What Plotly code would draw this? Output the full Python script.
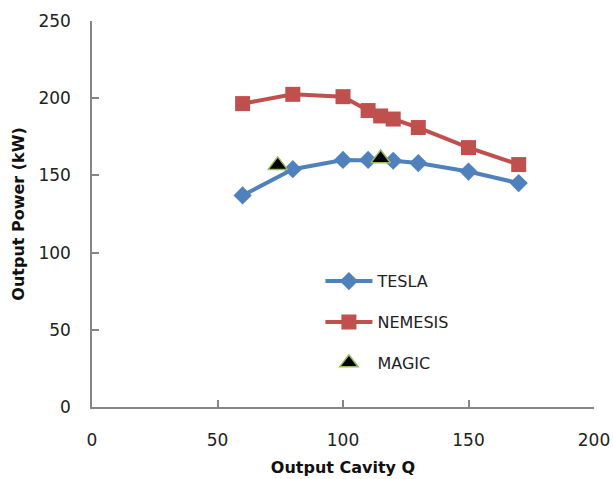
import plotly.graph_objects as go

# Output cavity Q sweep
tesla_q = [60, 80, 100, 110, 120, 130, 150, 170]
tesla_kw = [137, 154, 160, 160, 159.5, 158, 152.5, 145]

nemesis_q = [60, 80, 100, 110, 115, 120, 130, 150, 170]
nemesis_kw = [196.5, 202.5, 201, 192, 188.5, 186.5, 181, 168, 157]

magic_q = [74, 115]
magic_kw = [156.5, 161]

FONT = "'DejaVu Sans', Verdana, sans-serif"
AXIS_GRAY = "#868686"

fig = go.Figure()
fig.add_trace(go.Scatter(
    x=tesla_q, y=tesla_kw, name="TESLA", mode="lines+markers",
    legendgroup="a",
    line=dict(color="#4F81BD", width=4),
    marker=dict(symbol="diamond", size=14, color="#4F81BD"),
))
fig.add_trace(go.Scatter(
    x=nemesis_q, y=nemesis_kw, name="NEMESIS", mode="lines+markers",
    legendgroup="b",
    line=dict(color="#C0504D", width=4),
    marker=dict(symbol="square", size=15, color="#C0504D"),
))
fig.add_trace(go.Scatter(
    x=magic_q, y=magic_kw, name="MAGIC", mode="markers",
    legendgroup="c",
    marker=dict(symbol="triangle-up", size=17, color="black",
                line=dict(color="#9BBB59", width=1.5)),
))

fig.update_layout(
    width=613, height=479,
    margin=dict(l=92, r=19, t=21, b=72),
    paper_bgcolor="white", plot_bgcolor="white",
    font=dict(family=FONT, size=17, color="#222222"),
    showlegend=True,
    legend=dict(
        x=0.455, y=0.37, xanchor="left", yanchor="top",
        bgcolor="rgba(0,0,0,0)",
        font=dict(family=FONT, size=16, color="#222222"),
        tracegroupgap=17, itemwidth=47,
    ),
    xaxis=dict(
        range=[0, 200], tickvals=[0, 50, 100, 150, 200],
        automargin=False,
        showgrid=False, zeroline=False,
        showline=True, linecolor=AXIS_GRAY, linewidth=1.5,
        ticks="inside", ticklen=7, tickcolor=AXIS_GRAY, tickwidth=1.5,
        ticklabelstandoff=17,
        title=dict(text="<b>Output Cavity Q</b>", standoff=13,
                   font=dict(family=FONT, size=16, color="#111111")),
    ),
    yaxis=dict(
        range=[0, 250], tickvals=[0, 50, 100, 150, 200, 250],
        automargin=False,
        showgrid=False, zeroline=False,
        showline=True, linecolor=AXIS_GRAY, linewidth=1.5,
        ticks="inside", ticklen=7, tickcolor=AXIS_GRAY, tickwidth=1.5,
        ticklabelstandoff=16,
        title=dict(text="<b>Output Power (kW)</b>", standoff=10,
                   font=dict(family=FONT, size=16, color="#111111")),
    ),
)

fig.write_html("out.html")
